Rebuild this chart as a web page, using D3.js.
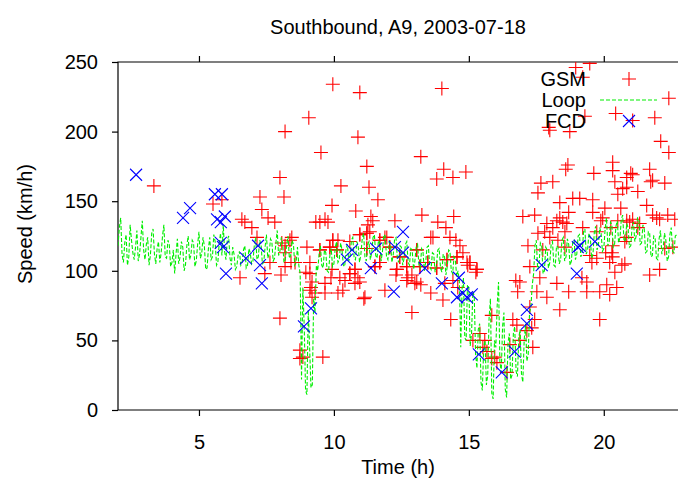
<!DOCTYPE html>
<html>
<head>
<meta charset="utf-8">
<script src="https://cdn.jsdelivr.net/npm/d3@7"></script>
<style>
  body { margin: 0; background: #fff; }
  svg { display: block; font-family: "Liberation Sans", Arial, Helvetica, sans-serif; }
</style>
</head>
<body>
<svg id="chart" width="678" height="481"></svg>
<script>
const title = "Southbound, A9, 2003-07-18";
const xLabel = "Time (h)";
const yLabel = "Speed (km/h)";
const xTicks = [5, 10, 15, 20];
const yTicks = [0, 50, 100, 150, 200, 250];
const seriesNames = ["GSM", "Loop", "FCD"];

// GSM probe speeds (time in h, speed in km/h)
const gsmTime = [3.33, 5.52, 5.85, 6.52, 6.59, 6.70, 6.96, 7.15, 7.26, 7.33, 7.44, 7.56, 7.63, 7.81,
  8.0, 8.0, 8.04, 8.07, 8.15, 8.19, 8.19, 8.19, 8.19, 8.37, 8.41, 8.44, 8.56, 8.74, 8.74, 8.85, 8.96,
  9.0, 9.07, 9.11, 9.11, 9.11, 9.15, 9.19, 9.19, 9.30, 9.33, 9.48, 9.48, 9.52, 9.59, 9.67, 9.67, 9.67,
  9.78, 9.85, 9.89, 9.93, 9.93, 9.96, 9.96, 10.11, 10.15, 10.15, 10.22, 10.26, 10.33, 10.41, 10.59,
  10.59, 10.78, 10.78, 10.81, 10.89, 10.89, 10.96, 10.96, 10.96, 11.11, 11.15, 11.22, 11.22, 11.22,
  11.26, 11.30, 11.33, 11.37, 11.44, 11.52, 11.63, 11.70, 11.70, 11.89, 11.89, 12.07, 12.26, 12.30,
  12.33, 12.44, 12.70, 12.70, 12.74, 12.89, 12.89, 13.0, 13.07, 13.07, 13.19, 13.22, 13.22, 13.26,
  13.48, 13.59, 13.59, 13.81, 13.81, 13.85, 14.0, 14.04, 14.07, 14.11, 14.15, 14.19, 14.30, 14.33,
  14.41, 14.41, 14.44, 14.52, 14.56, 14.59, 14.67, 14.78, 14.89, 14.93, 14.96, 15.04, 15.15, 15.26,
  15.30, 15.41, 15.52, 15.59, 15.67, 15.85, 15.85, 15.96, 16.04, 16.41, 16.52, 16.63, 16.74, 16.78,
  16.81, 16.89, 16.89, 17.0, 17.15, 17.19, 17.26, 17.26, 17.33, 17.37, 17.44, 17.44, 17.52, 17.56,
  17.56, 17.63, 17.67, 17.74, 17.81, 17.89, 17.89, 17.96, 18.0, 18.0, 18.11, 18.11, 18.26, 18.26,
  18.30, 18.37, 18.37, 18.37, 18.48, 18.56, 18.56, 18.59, 18.63, 18.67, 18.70, 18.70, 18.74, 18.85,
  18.96, 19.11, 19.19, 19.22, 19.22, 19.30, 19.37, 19.37, 19.48, 19.48, 19.56, 19.59, 19.59, 19.63,
  19.74, 19.74, 19.85, 19.85, 19.89, 19.96, 20.04, 20.07, 20.11, 20.22, 20.22, 20.26, 20.30, 20.33,
  20.33, 20.33, 20.33, 20.41, 20.41, 20.44, 20.48, 20.52, 20.52, 20.63, 20.67, 20.70, 20.78, 20.78,
  20.85, 20.85, 20.85, 20.85, 20.96, 21.0, 21.07, 21.07, 21.07, 21.26, 21.26, 21.33, 21.59, 21.70,
  21.70, 21.74, 21.81, 21.81, 21.89, 21.96, 22.07, 22.07, 22.11, 22.26, 22.26, 22.37, 22.41, 22.41,
  22.56, 22.63,
  10.96, 11.22, 11.70, 11.96, 13.67, 9.96, 9.85, 9.48, 10.11, 11.22, 12.07, 13.07, 12.44, 11.70,
  10.59, 10.78, 11.52, 12.33, 12.70, 13.19, 13.48, 13.81, 14.19, 14.56, 15.04, 15.30];
const gsmSpeed = [161, 148, 151, 95, 137, 135, 131, 124, 153, 144, 98, 138, 106, 135,
  167, 66, 97, 120, 153, 200, 103, 118, 113, 122, 106, 124, 106, 43, 37, 38, 99,
  117, 210, 106, 98, 86, 88, 92, 81, 84, 135, 135, 115, 185, 38, 137, 91, 84,
  135, 117, 95, 147, 101, 234, 122, 115, 122, 84, 95, 161, 86, 93, 121,
  98, 91, 101, 143, 196, 95, 228, 126, 92, 80, 81, 175, 127, 116,
  133, 160, 128, 139, 136, 103, 151, 122, 106, 124, 86, 117, 136, 97,
  101, 110, 93, 103, 95, 70, 97, 91, 115, 92, 103, 182, 90, 140,
  106, 124, 84, 166, 102, 135, 231, 79, 173, 91, 131, 108, 124, 65,
  167, 93, 139, 122, 110, 88, 118, 113, 171, 106, 104, 106, 50, 99,
  101, 55, 45, 50, 42, 37, 68, 38, 34, 27, 47, 65, 93, 61,
  85, 92, 50, 139, 57, 118, 103, 74, 59, 45, 140, 65, 85, 156,
  127, 95, 163, 115, 128, 134, 81, 203, 201, 124, 164, 131, 136, 91,
  122, 149, 138, 72, 135, 128, 117, 173, 134, 176, 142, 85, 200, 152,
  246, 152, 95, 239, 131, 211, 92, 85, 249, 111, 106, 151, 142, 170,
  128, 109, 65, 85, 136, 138, 145, 113, 90, 106, 83, 131, 113, 178,
  172, 118, 110, 164, 99, 213, 88, 155, 136, 145, 104, 159, 121, 105,
  167, 160, 136, 124, 135, 170, 208, 169, 137, 157, 131, 134, 147, 173,
  97, 164, 165, 140, 210, 138, 137, 101, 193, 163, 116, 140, 224, 185,
  117, 137,
  126, 127, 122, 124, 124, 122, 117, 115, 115, 116, 117, 115, 110, 106,
  98, 101, 103, 101, 103, 103, 106, 102, 108, 110, 106, 101];

// Loop detector speeds, one reading every 3 minutes
const loopTime = [
  2.00, 2.05, 2.10, 2.15, 2.20, 2.25, 2.30, 2.35, 2.40, 2.45, 2.50, 2.55, 2.60, 2.65, 2.70, 2.75, 2.80, 2.85, 2.90, 2.95,
  3.00, 3.05, 3.10, 3.15, 3.20, 3.25, 3.30, 3.35, 3.40, 3.45, 3.50, 3.55, 3.60, 3.65, 3.70, 3.75, 3.80, 3.85, 3.90, 3.95,
  4.00, 4.05, 4.10, 4.15, 4.20, 4.25, 4.30, 4.35, 4.40, 4.45, 4.50, 4.55, 4.60, 4.65, 4.70, 4.75, 4.80, 4.85, 4.90, 4.95,
  5.00, 5.05, 5.10, 5.15, 5.20, 5.25, 5.30, 5.35, 5.40, 5.45, 5.50, 5.55, 5.60, 5.65, 5.70, 5.75, 5.80, 5.85, 5.90, 5.95,
  6.00, 6.05, 6.10, 6.15, 6.20, 6.25, 6.30, 6.35, 6.40, 6.45, 6.50, 6.55, 6.60, 6.65, 6.70, 6.75, 6.80, 6.85, 6.90, 6.95,
  7.00, 7.05, 7.10, 7.15, 7.20, 7.25, 7.30, 7.35, 7.40, 7.45, 7.50, 7.55, 7.60, 7.65, 7.70, 7.75, 7.80, 7.85, 7.90, 7.95,
  8.00, 8.05, 8.10, 8.15, 8.20, 8.25, 8.30, 8.35, 8.40, 8.45, 8.50, 8.55, 8.60, 8.65, 8.70, 8.75, 8.80, 8.85, 8.90, 8.95,
  9.00, 9.05, 9.10, 9.15, 9.20, 9.25, 9.30, 9.35, 9.40, 9.45, 9.50, 9.55, 9.60, 9.65, 9.70, 9.75, 9.80, 9.85, 9.90, 9.95,
  10.00, 10.05, 10.10, 10.15, 10.20, 10.25, 10.30, 10.35, 10.40, 10.45, 10.50, 10.55, 10.60, 10.65, 10.70, 10.75, 10.80, 10.85, 10.90, 10.95,
  11.00, 11.05, 11.10, 11.15, 11.20, 11.25, 11.30, 11.35, 11.40, 11.45, 11.50, 11.55, 11.60, 11.65, 11.70, 11.75, 11.80, 11.85, 11.90, 11.95,
  12.00, 12.05, 12.10, 12.15, 12.20, 12.25, 12.30, 12.35, 12.40, 12.45, 12.50, 12.55, 12.60, 12.65, 12.70, 12.75, 12.80, 12.85, 12.90, 12.95,
  13.00, 13.05, 13.10, 13.15, 13.20, 13.25, 13.30, 13.35, 13.40, 13.45, 13.50, 13.55, 13.60, 13.65, 13.70, 13.75, 13.80, 13.85, 13.90, 13.95,
  14.00, 14.05, 14.10, 14.15, 14.20, 14.25, 14.30, 14.35, 14.40, 14.45, 14.50, 14.55, 14.60, 14.65, 14.70, 14.75, 14.80, 14.85, 14.90, 14.95,
  15.00, 15.05, 15.10, 15.15, 15.20, 15.25, 15.30, 15.35, 15.40, 15.45, 15.50, 15.55, 15.60, 15.65, 15.70, 15.75, 15.80, 15.85, 15.90, 15.95,
  16.00, 16.05, 16.10, 16.15, 16.20, 16.25, 16.30, 16.35, 16.40, 16.45, 16.50, 16.55, 16.60, 16.65, 16.70, 16.75, 16.80, 16.85, 16.90, 16.95,
  17.00, 17.05, 17.10, 17.15, 17.20, 17.25, 17.30, 17.35, 17.40, 17.45, 17.50, 17.55, 17.60, 17.65, 17.70, 17.75, 17.80, 17.85, 17.90, 17.95,
  18.00, 18.05, 18.10, 18.15, 18.20, 18.25, 18.30, 18.35, 18.40, 18.45, 18.50, 18.55, 18.60, 18.65, 18.70, 18.75, 18.80, 18.85, 18.90, 18.95,
  19.00, 19.05, 19.10, 19.15, 19.20, 19.25, 19.30, 19.35, 19.40, 19.45, 19.50, 19.55, 19.60, 19.65, 19.70, 19.75, 19.80, 19.85, 19.90, 19.95,
  20.00, 20.05, 20.10, 20.15, 20.20, 20.25, 20.30, 20.35, 20.40, 20.45, 20.50, 20.55, 20.60, 20.65, 20.70, 20.75, 20.80, 20.85, 20.90, 20.95,
  21.00, 21.05, 21.10, 21.15, 21.20, 21.25, 21.30, 21.35, 21.40, 21.45, 21.50, 21.55, 21.60, 21.65, 21.70, 21.75, 21.80, 21.85, 21.90, 21.95,
  22.00, 22.05, 22.10, 22.15, 22.20, 22.25, 22.30, 22.35, 22.40, 22.45, 22.50, 22.55, 22.60, 22.65, 22.70];
const loopSpeed = [
  118, 131, 138, 112, 106, 120, 126, 104, 110, 133, 122, 113, 108, 117, 129, 107, 112, 124, 136, 115,
  108, 119, 124, 104, 111, 127, 130, 112, 105, 116, 121, 106, 113, 125, 133, 110, 109, 122, 119, 103,
  106, 115, 98, 112, 123, 105, 110, 121, 117, 100, 104, 118, 125, 108, 111, 122, 120, 103, 107, 119,
  128, 109, 112, 124, 118, 101, 102, 116, 124, 108, 110, 126, 121, 104, 106, 120, 127, 111, 133, 114,
  108, 122, 125, 109, 104, 117, 112, 101, 103, 111, 114, 104, 106, 115, 118, 102, 104, 116, 113, 105,
  107, 118, 124, 108, 110, 122, 119, 105, 106, 117, 126, 109, 112, 123, 121, 107, 109, 120, 129, 111,
  114, 124, 120, 106, 108, 119, 125, 109, 111, 122, 119, 104, 106, 117, 104, 98, 22, 88, 60, 14,
  11, 72, 45, 16, 18, 80, 70, 104, 100, 112, 118, 104, 102, 115, 113, 100, 99, 111, 116, 103,
  105, 117, 121, 106, 108, 120, 115, 104, 103, 116, 119, 107, 110, 122, 124, 109, 108, 121, 118, 106,
  112, 123, 127, 110, 107, 119, 121, 108, 113, 124, 126, 111, 109, 122, 120, 107, 114, 126, 125, 110,
  108, 121, 119, 106, 112, 123, 124, 109, 106, 118, 117, 104, 109, 119, 121, 106, 104, 116, 115, 101,
  107, 117, 119, 104, 102, 116, 114, 100, 106, 117, 118, 103, 101, 113, 112, 99, 104, 115, 116, 102,
  99, 112, 110, 97, 103, 115, 114, 100, 98, 110, 108, 96, 100, 92, 45, 88, 95, 52, 50, 90,
  88, 46, 55, 85, 82, 40, 30, 58, 62, 20, 14, 45, 50, 18, 25, 66, 80, 12, 8, 50,
  45, 75, 92, 35, 27, 60, 70, 15, 9, 48, 55, 22, 25, 55, 60, 28, 24, 52, 58, 26,
  20, 50, 62, 35, 40, 70, 74, 90, 98, 118, 122, 101, 104, 120, 118, 98, 100, 117, 115, 102,
  106, 119, 121, 104, 103, 118, 117, 105, 108, 122, 124, 107, 110, 123, 119, 104, 107, 121, 122, 108,
  112, 125, 126, 110, 113, 128, 130, 112, 115, 127, 124, 109, 112, 128, 132, 115, 118, 131, 127, 114,
  116, 130, 138, 118, 121, 135, 133, 117, 119, 132, 136, 120, 124, 137, 140, 121, 122, 134, 131, 117,
  118, 132, 135, 121, 125, 138, 137, 119, 120, 133, 130, 113, 114, 128, 127, 110, 111, 125, 124, 109,
  108, 123, 129, 112, 116, 127, 122, 107, 110, 126, 131, 114, 113, 125, 126];

// FCD (floating car) speeds
const fcdTime = [2.67, 4.41, 4.67, 5.59, 5.85, 5.67, 5.96, 5.81, 5.81, 5.89, 6.0, 6.74, 7.19, 7.26,
  7.33, 8.89, 9.15, 10.67, 10.48, 11.56, 11.37, 12.26, 12.56, 12.56, 12.22, 13.37, 14.0, 14.63,
  14.56, 14.78, 14.93, 15.11, 15.37, 16.22, 16.70, 17.15, 17.15, 17.70, 19.04, 19.11, 19.0, 19.67];
const fcdSpeed = [169, 138, 145, 155, 155, 137, 139, 135, 120, 117, 98, 109, 118, 104,
  91, 60, 73, 115, 108, 116, 102, 117, 113, 128, 85, 102, 91, 95,
  81, 84, 81, 83, 40, 27, 42, 62, 72, 104, 117, 118, 98, 121];

const width = 678, height = 481;
const margin = { top: 62, right: 0, bottom: 71, left: 118 };
const fontSize = 20;

const svg = d3.select("#chart");
svg.append("rect").attr("width", width).attr("height", height).attr("fill", "#fff");

const x = d3.scaleLinear().domain([2, 22.75]).range([margin.left, width - margin.right]);
const y = d3.scaleLinear().domain([0, 250]).range([height - margin.bottom, margin.top]);

svg.append("clipPath").attr("id", "plot-clip")
  .append("rect")
  .attr("x", margin.left).attr("y", margin.top)
  .attr("width", width - margin.left - margin.right)
  .attr("height", height - margin.top - margin.bottom);

// axes
const yAxis = svg.append("g")
  .attr("transform", `translate(${margin.left},0)`)
  .call(d3.axisLeft(y).tickValues(yTicks).tickSizeInner(6).tickSizeOuter(0).tickPadding(14));
const xAxis = svg.append("g")
  .attr("transform", `translate(0,${height - margin.bottom})`)
  .call(d3.axisBottom(x).tickValues(xTicks).tickSizeInner(6).tickSizeOuter(0).tickPadding(19));
const x2Axis = svg.append("g")
  .attr("transform", `translate(0,${margin.top})`)
  .call(d3.axisTop(x).tickValues(xTicks).tickFormat("").tickSizeInner(6).tickSizeOuter(0));

[yAxis, xAxis, x2Axis].forEach((a) => {
  a.select(".domain").remove();
  a.selectAll("line").attr("stroke", "#000").attr("stroke-width", 1.2);
  a.selectAll("text").attr("fill", "#000").attr("font-size", fontSize)
    .attr("font-family", '"Liberation Sans", Arial, sans-serif');
});

// border (left, top, bottom)
svg.append("path")
  .attr("d", `M${width},${margin.top}H${margin.left}V${height - margin.bottom}H${width}`)
  .attr("fill", "none").attr("stroke", "#000").attr("stroke-width", 1.2);

const plot = svg.append("g").attr("clip-path", "url(#plot-clip)");

const plusPath = "M-7,0H7M0,-7V7";
const crossPath = "M-6,-6L6,6M-6,6L6,-6";

// GSM
plot.append("g").selectAll("path")
  .data(d3.zip(gsmTime, gsmSpeed))
  .join("path")
  .attr("transform", (d) => `translate(${x(d[0])},${y(d[1])})`)
  .attr("d", plusPath)
  .attr("fill", "none").attr("stroke", "#ff0000").attr("stroke-width", 1.1);

// Loop
const line = d3.line().x((d) => x(d[0])).y((d) => y(d[1]));
plot.append("path")
  .datum(d3.zip(loopTime, loopSpeed))
  .attr("d", line)
  .attr("fill", "none").attr("stroke", "#00ee00").attr("stroke-width", 1.1)
  .attr("stroke-dasharray", "4,2");

// FCD
plot.append("g").selectAll("path")
  .data(d3.zip(fcdTime, fcdSpeed))
  .join("path")
  .attr("transform", (d) => `translate(${x(d[0])},${y(d[1])})`)
  .attr("d", crossPath)
  .attr("fill", "none").attr("stroke", "#0000ff").attr("stroke-width", 1.1);

// titles
svg.append("text").attr("x", 398).attr("y", 34)
  .attr("text-anchor", "middle").attr("font-size", fontSize).text(title);
svg.append("text").attr("x", 398).attr("y", 474)
  .attr("text-anchor", "middle").attr("font-size", fontSize).text(xLabel);
svg.append("text")
  .attr("transform", "translate(32,224) rotate(-90)")
  .attr("text-anchor", "middle").attr("font-size", fontSize).text(yLabel);

// legend
const legend = svg.append("g");
seriesNames.forEach((name, i) => {
  const ly = 79 + i * 21;
  legend.append("text").attr("x", 586).attr("y", ly + 7)
    .attr("text-anchor", "end").attr("font-size", fontSize).text(name);
  if (name === "GSM") {
    legend.append("path").attr("transform", `translate(629,${ly})`).attr("d", plusPath)
      .attr("fill", "none").attr("stroke", "#ff0000").attr("stroke-width", 1.1);
  } else if (name === "Loop") {
    legend.append("line").attr("x1", 600).attr("x2", 657).attr("y1", ly).attr("y2", ly)
      .attr("stroke", "#00ee00").attr("stroke-width", 1.1).attr("stroke-dasharray", "4,2");
  } else {
    legend.append("path").attr("transform", `translate(629,${ly})`).attr("d", crossPath)
      .attr("fill", "none").attr("stroke", "#0000ff").attr("stroke-width", 1.1);
  }
});
</script>
</body>
</html>
